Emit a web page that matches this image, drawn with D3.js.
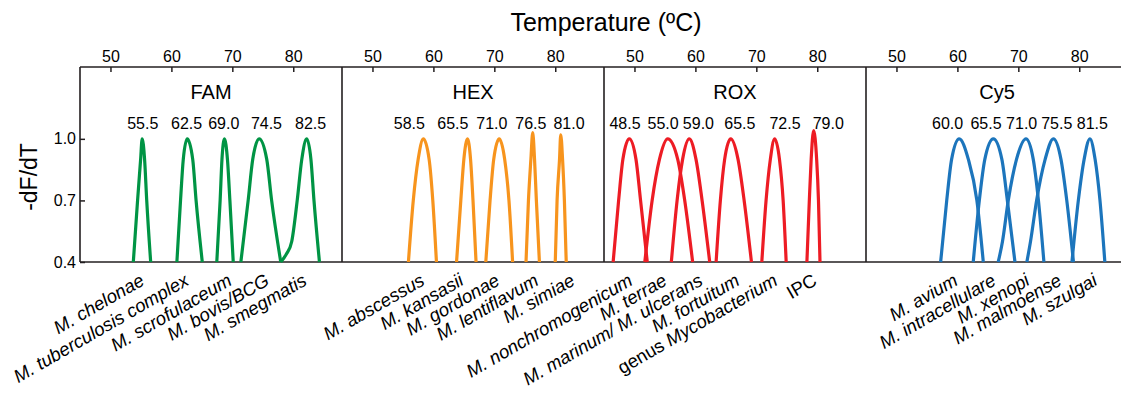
<!DOCTYPE html>
<html>
<head>
<meta charset="utf-8">
<script src="https://cdn.jsdelivr.net/npm/d3@7"></script>
<style>
  body { margin: 0; background: #fff; }
  svg { display: block; font-family: "Liberation Sans", Arial, sans-serif; }
</style>
</head>
<body>
<div id="chart"></div>
<script>
// dye channels
const channels = ['FAM', 'HEX', 'ROX', 'Cy5'];
const xTicks = [50, 60, 70, 80];
const yTicks = [0.4, 0.7, 1.0];

// FAM
const famSpecies = ['M. chelonae', 'M. tuberculosis complex', 'M. scrofulaceum', 'M. bovis/BCG', 'M. smegmatis'];
const famSpeciesAt = [55.6, 62.9, 69.95, 76.1, 82.25];
const famTm = ['55.5', '62.5', '69.0', '74.5', '82.5'];
const famTmAt = [55.3, 62.5, 68.6, 75.6, 82.85];
const famCurves = [
  [[53.75, 0.4], [54.45, 0.7], [54.95, 0.9], [55.2, 1.0], [55.6, 0.9], [55.95, 0.7], [56.6, 0.4]],
  [[60.9, 0.4], [61.5, 0.7], [61.95, 0.9], [62.6, 1.0], [63.5, 0.9], [64.05, 0.7], [65.07, 0.4]],
  [[67.45, 0.4], [68.0, 0.7], [68.3, 0.9], [68.7, 1.0], [69.2, 0.9], [69.6, 0.7], [70.15, 0.4]],
  [[71.4, 0.4], [72.6, 0.7], [73.35, 0.9], [74.4, 1.0], [75.65, 0.9], [76.45, 0.7], [77.95, 0.4]],
  [[77.95, 0.4], [78.9, 0.44], [79.75, 0.5], [80.65, 0.7], [81.4, 0.9], [82.2, 1.0], [82.9, 0.9], [83.4, 0.7], [84.3, 0.4]]
];

// HEX
const hexSpecies = ['M. abscessus', 'M. kansasii', 'M. gordonae', 'M. lentiflavum', 'M. simiae'];
const hexSpeciesAt = [58.6, 65.0, 70.9, 77.3, 83.25];
const hexTm = ['58.5', '65.5', '71.0', '76.5', '81.0'];
const hexTmAt = [56.05, 63.2, 69.6, 76.0, 82.25];
const hexCurves = [
  [[55.9, 0.4], [56.7, 0.7], [57.5, 0.9], [58.35, 1.0], [59.3, 0.9], [59.9, 0.7], [60.5, 0.4]],
  [[63.8, 0.4], [64.5, 0.7], [65.0, 0.9], [65.6, 1.0], [66.1, 0.9], [66.5, 0.7], [67.0, 0.4]],
  [[68.6, 0.4], [69.3, 0.7], [69.9, 0.9], [70.8, 1.0], [71.7, 0.9], [72.4, 0.7], [73.0, 0.4]],
  [[75.2, 0.4], [75.6, 0.7], [76.0, 0.9], [76.3, 1.03], [76.6, 0.9], [76.9, 0.7], [77.4, 0.4]],
  [[80.0, 0.4], [80.3, 0.7], [80.7, 0.9], [80.9, 1.02], [81.2, 0.9], [81.5, 0.7], [81.8, 0.4]]
];

// ROX
const roxSpecies = ['M. nonchromogenicum', 'M. terrae', 'M. marinum/ M. ulcerans', 'M. fortuitum', 'genus Mycobacterium', 'IPC'];
const roxSpeciesAt = [49.75, 55.35, 61.25, 67.3, 73.55, 79.95];
const roxTm = ['48.5', '55.0', '59.0', '65.5', '72.5', '79.0'];
const roxTmAt = [48.45, 54.7, 60.5, 67.3, 74.7, 81.8];
const roxCurves = [
  [[46.5, 0.4], [47.4, 0.7], [48.1, 0.9], [49.15, 1.0], [50.25, 0.9], [51.0, 0.7], [52.1, 0.4]],
  [[51.7, 0.4], [52.9, 0.7], [54.1, 0.9], [55.45, 1.0], [57.1, 0.9], [58.25, 0.7], [59.55, 0.4]],
  [[56.05, 0.4], [57.0, 0.7], [57.9, 0.9], [59.0, 1.0], [60.1, 0.9], [61.1, 0.7], [62.35, 0.4]],
  [[63.4, 0.4], [64.1, 0.7], [64.8, 0.9], [65.8, 1.0], [67.0, 0.9], [68.0, 0.7], [69.2, 0.4]],
  [[70.9, 0.4], [71.6, 0.7], [72.3, 0.9], [73.0, 1.0], [73.8, 0.9], [74.4, 0.7], [74.9, 0.4]],
  [[78.3, 0.4], [78.7, 0.7], [79.0, 0.9], [79.4, 1.04], [79.9, 0.9], [80.2, 0.7], [80.45, 0.4]]
];

// Cy5
const cy5Species = ['M. avium', 'M. intracellulare', 'M. xenopi', 'M. malmoense', 'M. szulgai'];
const cy5SpeciesAt = [60.1, 66.35, 71.9, 77.15, 83.0];
const cy5Tm = ['60.0', '65.5', '71.0', '75.5', '81.5'];
const cy5TmAt = [58.4, 64.7, 70.55, 76.3, 82.15];
const cy5Curves = [
  [[57.25, 0.4], [58.25, 0.7], [59.05, 0.9], [60.3, 1.0], [61.8, 0.9], [63.2, 0.7], [64.25, 0.4]],
  [[62.6, 0.4], [63.6, 0.7], [64.5, 0.9], [65.9, 1.0], [67.3, 0.9], [68.2, 0.7], [69.45, 0.4]],
  [[66.7, 0.4], [67.4, 0.5], [68.35, 0.7], [69.7, 0.9], [71.25, 1.0], [72.45, 0.9], [73.3, 0.7], [74.2, 0.4]],
  [[71.4, 0.4], [72.0, 0.5], [73.0, 0.7], [74.4, 0.9], [75.75, 1.0], [77.0, 0.9], [77.95, 0.7], [79.05, 0.4]],
  [[78.8, 0.4], [79.85, 0.7], [80.8, 0.9], [81.75, 1.0], [82.6, 0.9], [83.4, 0.7], [84.2, 0.4]]
];

const panels = [
  { species: famSpecies, speciesAt: famSpeciesAt, tm: famTm, tmAt: famTmAt, curves: famCurves },
  { species: hexSpecies, speciesAt: hexSpeciesAt, tm: hexTm, tmAt: hexTmAt, curves: hexCurves },
  { species: roxSpecies, speciesAt: roxSpeciesAt, tm: roxTm, tmAt: roxTmAt, curves: roxCurves },
  { species: cy5Species, speciesAt: cy5SpeciesAt, tm: cy5Tm, tmAt: cy5TmAt, curves: cy5Curves }
];
const colors = ['#009444', '#f7941d', '#ed1c24', '#1c75bc'];

const width = 1121, height = 394;
const margin = { left: 80, top: 67 };
const panelW = 262, plotH = 195;
const frameColor = '#231f20';

const svg = d3.select('#chart').append('svg')
  .attr('width', width)
  .attr('height', height);

const x = d3.scaleLinear().domain([45, 88]).range([0, panelW]);
const y = d3.scaleLinear().domain([0.4, 1.35]).range([plotH, 0]);

const line = d3.line()
  .x(d => x(d[0]))
  .y(d => y(d[1]))
  .curve(d3.curveMonotoneX);

svg.append('text')
  .attr('x', 606)
  .attr('y', 31)
  .attr('text-anchor', 'middle')
  .attr('font-size', 25)
  .attr('fill', '#000')
  .text('Temperature (ºC)');

svg.append('text')
  .attr('transform', 'translate(37,177) rotate(-90)')
  .attr('text-anchor', 'middle')
  .attr('font-size', 23)
  .attr('fill', '#000')
  .text('-dF/dT');

panels.forEach((p, i) => {
  const g = svg.append('g')
    .attr('transform', `translate(${margin.left + i * panelW},${margin.top})`);

  // top temperature axis, ticks pointing inside
  const top = g.append('g')
    .call(d3.axisTop(x).tickValues(xTicks).tickSizeInner(-5).tickSizeOuter(0).tickPadding(5));
  top.select('.domain').remove();
  top.selectAll('line').attr('stroke', frameColor).attr('stroke-width', 1.5);
  top.selectAll('text').attr('font-size', 16).attr('fill', '#000').attr('font-family', null);

  if (i === 0) {
    const left = g.append('g')
      .call(d3.axisLeft(y).tickValues(yTicks).tickFormat(d3.format('.1f'))
        .tickSizeInner(-5).tickSizeOuter(0).tickPadding(4));
    left.select('.domain').remove();
    left.selectAll('line').attr('stroke', frameColor).attr('stroke-width', 1.5);
    left.selectAll('text').attr('font-size', 16).attr('fill', '#000').attr('font-family', null);
  }

  // frame
  const frame = g.append('g')
    .attr('stroke', frameColor)
    .attr('stroke-width', 1.6);
  frame.append('line').attr('x1', 0).attr('x2', 0).attr('y1', 0).attr('y2', plotH);
  frame.append('line').attr('x1', 0).attr('x2', panelW).attr('y1', 0).attr('y2', 0);
  frame.append('line').attr('x1', 0).attr('x2', panelW).attr('y1', plotH).attr('y2', plotH);

  g.append('text')
    .attr('x', panelW / 2)
    .attr('y', 32)
    .attr('text-anchor', 'middle')
    .attr('font-size', 20)
    .attr('fill', '#000')
    .text(channels[i]);

  g.selectAll('.tm')
    .data(p.tm)
    .enter().append('text')
    .attr('class', 'tm')
    .attr('x', (d, j) => x(p.tmAt[j]))
    .attr('y', 62)
    .attr('text-anchor', 'middle')
    .attr('font-size', 16)
    .attr('fill', '#000')
    .text(d => d);

  g.selectAll('.curve')
    .data(p.curves)
    .enter().append('path')
    .attr('class', 'curve')
    .attr('d', line)
    .attr('fill', 'none')
    .attr('stroke', colors[i])
    .attr('stroke-width', 3.2)
    .attr('stroke-linejoin', 'round');

  const labels = g.selectAll('.species')
    .data(p.species)
    .enter().append('text')
    .attr('class', 'species')
    .attr('transform', (d, j) => `translate(${x(p.speciesAt[j]) + 1},${plotH + 22}) rotate(-30)`)
    .attr('text-anchor', 'end')
    .attr('font-size', 18.5)
    .attr('fill', '#000');

  labels.each(function (d) {
    const t = d3.select(this);
    if (d === 'IPC') {
      t.text(d);
    } else if (d.startsWith('genus ')) {
      t.append('tspan').text('genus ');
      t.append('tspan').attr('font-style', 'italic').text(d.slice(6));
    } else {
      t.attr('font-style', 'italic').text(d);
    }
  });
});
</script>
</body>
</html>
